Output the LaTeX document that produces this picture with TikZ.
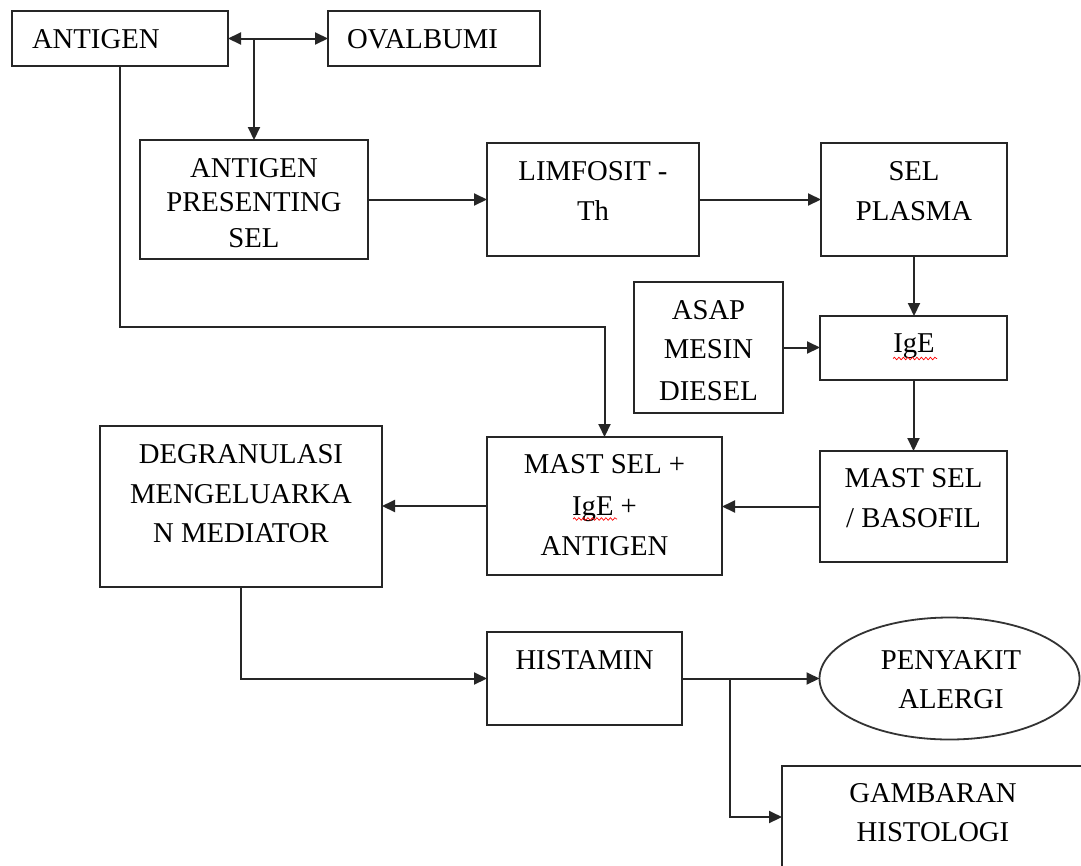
\documentclass[tikz,border=0pt]{standalone}
\usepackage{fontspec}
\setmainfont{Liberation Serif}
\usetikzlibrary{arrows.meta,shapes.geometric,decorations.pathmorphing}
\begin{document}
\begin{tikzpicture}[x=1pt,y=-1pt,
  font=\fontsize{28.7}{34}\selectfont,
  box/.style={draw=black!85, line width=2pt, inner sep=0pt, outer sep=0pt, rectangle},
  oval/.style={draw=black!80, line width=1.8pt, inner sep=0pt, outer sep=0pt, ellipse},
  txt/.style={inner sep=0pt, outer sep=0pt, anchor=base},
  conn/.style={draw=black!85, line width=2pt},
  arr/.style={conn, -{Triangle[length=13pt,width=12pt]}},
  darr/.style={conn, {Triangle[length=13pt,width=12pt]}-{Triangle[length=13pt,width=12pt]}},
  spell/.style={draw=red, line width=0.7pt, decorate, decoration={snake, amplitude=1.3pt, segment length=4.5pt}}
]
\useasboundingbox (0,0) rectangle (1081,865);
\fill[white] (0,0) rectangle (1081,865);
\clip (0,0) rectangle (1081,865);

% boxes
\node[box, minimum width=216.5pt, minimum height=55pt] (ag) at (119.75,38.5) {};
\node[box, minimum width=212pt, minimum height=55pt] (ov) at (434,38.5) {};
\node[box, minimum width=228pt, minimum height=119pt] (aps) at (254,199.5) {};
\node[box, minimum width=212pt, minimum height=113pt] (lim) at (593,199.5) {};
\node[box, minimum width=186pt, minimum height=113pt] (sp) at (914,199.5) {};
\node[box, minimum width=149pt, minimum height=131pt] (asap) at (708.5,347.5) {};
\node[box, minimum width=187pt, minimum height=64pt] (ige) at (913.5,348) {};
\node[box, minimum width=187pt, minimum height=111pt] (mb) at (913.5,506.5) {};
\node[box, minimum width=235pt, minimum height=138pt] (mi) at (604.5,506) {};
\node[box, minimum width=282pt, minimum height=161pt] (dg) at (241,506.5) {};
\node[box, minimum width=195pt, minimum height=93pt] (his) at (584.5,678.5) {};
\node[oval, minimum width=260pt, minimum height=122pt] (pa) at (949.5,678.5) {};
\node[box, minimum width=304pt, minimum height=102pt] (gh) at (934,817) {};

% texts
\node[txt, anchor=base west] (tag) at (32,48) {ANTIGEN};
\node[txt, anchor=base west] (tov) at (347,48) {OVALBUMI};
\node[txt] (taps1) at (254,177) {ANTIGEN};
\node[txt] (taps2) at (254,211) {PRESENTING};
\node[txt] (taps3) at (254,247) {SEL};
\node[txt] (tlim1) at (593,180) {LIMFOSIT -};
\node[txt] (tlim2) at (593,220) {Th};
\node[txt] (tsp1) at (914,180) {SEL};
\node[txt] (tsp2) at (914,220) {PLASMA};
\node[txt] (tas1) at (708.5,319) {ASAP};
\node[txt] (tas2) at (708.5,358) {MESIN};
\node[txt] (tas3) at (708.5,400) {DIESEL};
\node[txt] (tige) at (914,352) {IgE};
\node[txt] (tmb1) at (913.5,487) {MAST SEL};
\node[txt] (tmb2) at (913.5,527) {/ BASOFIL};
\node[txt] (tmi1) at (604.5,473) {MAST SEL +};
\node[txt] (tmi2) at (604.5,515) {IgE +};
\node[txt] (tmi3) at (604.5,555) {ANTIGEN};
\node[txt] (tdg1) at (241,463) {DEGRANULASI};
\node[txt] (tdg2) at (241,503) {MENGELUARKA};
\node[txt] (tdg3) at (241,542) {N MEDIATOR};
\node[txt] (this) at (584.5,669) {HISTAMIN};
\node[txt] (tpa1) at (951,669) {PENYAKIT};
\node[txt] (tpa2) at (951,708) {ALERGI};
\node[txt] (tgh1) at (933,802) {GAMBARAN};
\node[txt] (tgh2) at (933,841) {HISTOLOGI};

% spell-check underlines
\draw[spell] (893,358.5) -- (937,358.5);
\draw[spell] (573,519) -- (617,519);

% connectors
\coordinate (j1) at (254,38.5);
\draw[darr] (ag.east) -- (ov.west);
\draw[arr] (j1) -- (aps.north);
\draw[arr] (aps.east) -- (lim.west);
\draw[arr] (lim.east) -- (sp.west);
\draw[arr] (sp.south) -- (sp.south |- ige.north);
\draw[arr] (asap.east) -- (asap.east -| ige.west);
\draw[arr] (ige.south) -- (ige.south |- mb.north);
\draw[arr] (mb.west) -- (mb.west -| mi.east);
\draw[arr] (mi.west) -- (mi.west -| dg.east);
\coordinate (k1) at (119.75,327);
\draw[arr] (ag.south) -- (k1) -| (mi.north);
\draw[arr] (dg.south) |- (his.west);
\draw[arr] (his.east) -- (pa.west);
\coordinate (j2) at (730,678.5);
\draw[arr] (j2) |- (gh.west);
\end{tikzpicture}
\end{document}
